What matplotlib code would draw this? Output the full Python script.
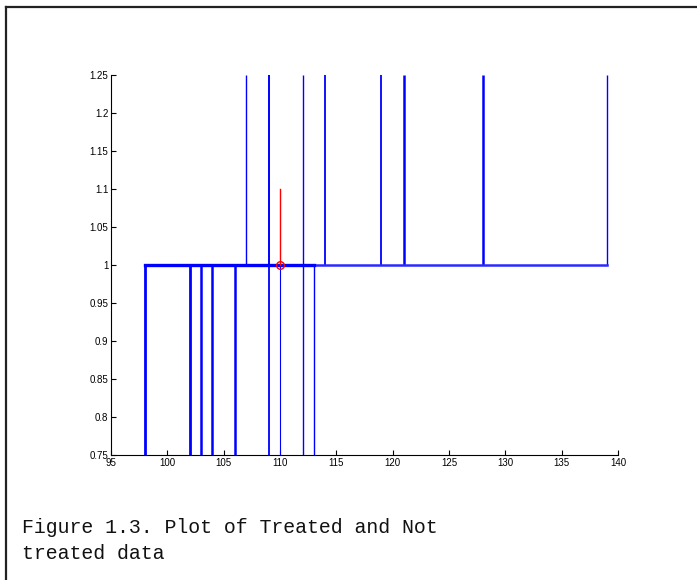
import matplotlib.pyplot as plt
from matplotlib.lines import Line2D

# stems below the baseline (0.75 -> 1)
lower_x = [98, 102, 103, 104, 106, 109, 110, 112, 113]
# stems above the baseline (1 -> 1.25)
upper_x = [107, 109, 112, 114, 119, 121, 128, 139]
baseline = 1.0
ymin, ymax = 0.75, 1.25
# treated point
treated_x = 110
treated_top = 1.1

xticks = [95, 100, 105, 110, 115, 120, 125, 130, 135, 140]
yticks = [0.75, 0.8, 0.85, 0.9, 0.95, 1, 1.05, 1.1, 1.15, 1.2, 1.25]
ylabels = ['0.75', '0.8', '0.85', '0.9', '0.95', '1', '1.05', '1.1', '1.15', '1.2', '1.25']
caption = ['Figure 1.3. Plot of Treated and Not', 'treated data']

# line widths (style only)
lower_lw = [2.0, 2.0, 1.8, 1.8, 1.8, 1.3, 0.8, 1.0, 1.0]
upper_lw = [1.0, 1.4, 1.0, 1.3, 1.3, 1.8, 1.8, 1.0]

fig = plt.figure(figsize=(6.97, 5.8), dpi=100, facecolor='white')
ax = fig.add_axes([0.1593, 0.2155, 0.7274, 0.6552])

blue = '#0000ff'
for x, lw in zip(lower_x, lower_lw):
    ax.plot([x, x], [ymin, baseline], color=blue, lw=lw, solid_capstyle='butt')
for x, lw in zip(upper_x, upper_lw):
    ax.plot([x, x], [baseline, ymax], color=blue, lw=lw, solid_capstyle='butt')
ax.plot([min(lower_x), max(upper_x)], [baseline, baseline], color='#2a2aff', lw=1.8)
ax.plot([min(lower_x), max(lower_x)], [baseline, baseline], color=blue, lw=2.4)

ax.plot([treated_x, treated_x], [baseline, treated_top], color='red', lw=1.0)
ax.plot([treated_x], [baseline], 'o', mfc='none', mec='red', ms=5.5, mew=1.0)

ax.set_xlim(95, 140)
ax.set_ylim(ymin, ymax)
ax.set_xticks(xticks)
ax.set_yticks(yticks)
ax.set_yticklabels(ylabels)
ax.spines['top'].set_visible(False)
ax.spines['right'].set_visible(False)
for s in ['left', 'bottom']:
    ax.spines[s].set_linewidth(0.8)
ax.tick_params(direction='in', length=3.5, width=0.8, labelsize=7, pad=2)
for lab in ax.get_xticklabels() + ax.get_yticklabels():
    lab.set_family('Liberation Sans')

# page frame (top and left edges)
fig.add_artist(Line2D([5.5/697, 5.5/697], [0, 1 - 7/580], transform=fig.transFigure, color='#222222', lw=1.6))
fig.add_artist(Line2D([5.5/697, 1], [1 - 7/580, 1 - 7/580], transform=fig.transFigure, color='#222222', lw=1.6))

for i, line in enumerate(caption):
    fig.text(22/697, 1 - (533 + 26*i)/580, line, family='Liberation Mono',
             fontsize=14.3, va='baseline', ha='left', color='#111111')

plt.savefig('out.png', dpi=100)
